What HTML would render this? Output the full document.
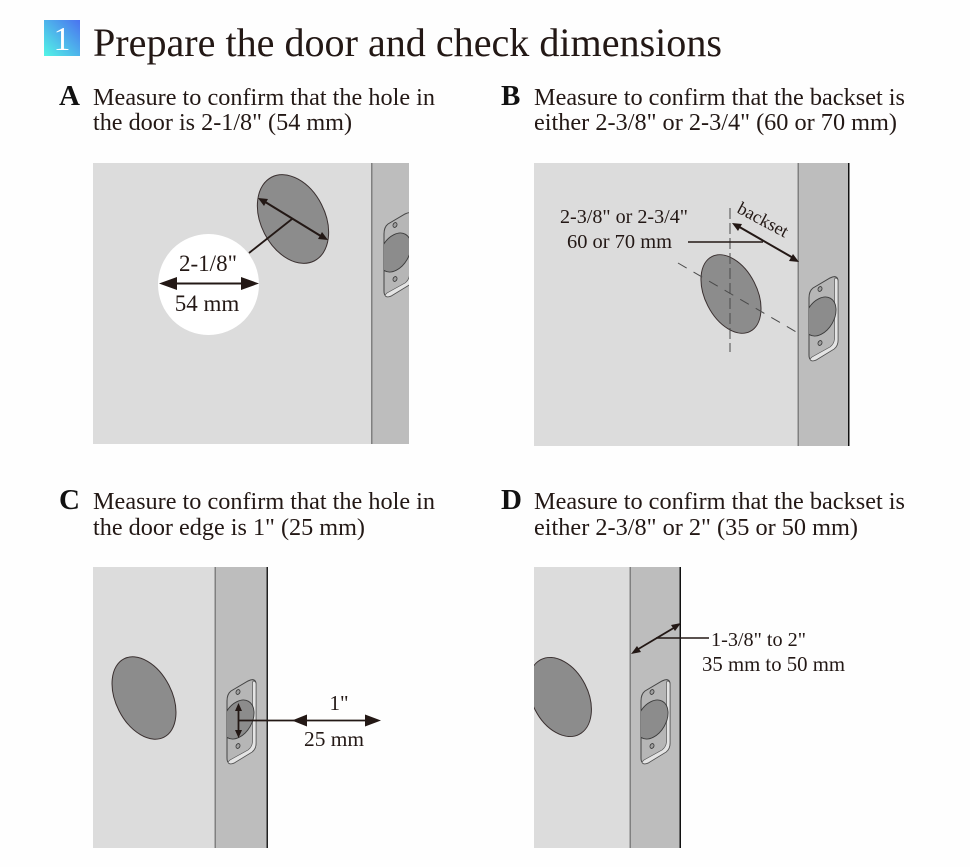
<!DOCTYPE html>
<html><head><meta charset="utf-8"><style>
html,body{margin:0;padding:0;background:#fff}
svg{display:block}
text{font-family:"Liberation Serif",serif;fill:#231815}
.b{font-size:24.2px}
.h{font-size:29px;font-weight:bold;fill:#111}
</style></head><body>
<svg width="970" height="867" viewBox="0 0 970 867" xmlns="http://www.w3.org/2000/svg">
<defs>
<linearGradient id="g" x1="1" y1="0" x2="0" y2="1"><stop offset="0" stop-color="#4a72f0"/><stop offset="1" stop-color="#52f5e6"/></linearGradient>
<clipPath id="ca"><rect x="93" y="163" width="316" height="281"/></clipPath>
<clipPath id="cd"><rect x="534" y="567" width="147" height="281"/></clipPath>
<clipPath id="pc"><path d="M809 298Q809 291 813 288L830 278Q834 276 836 277Q838 278 838 281V340Q838 346 834 349L816 360Q811 362 810 359Q809 358 809 355Z"/></clipPath>
<g id="plate">
<path d="M809 298Q809 291 813 288L830 278Q834 276 836 277Q838 278 838 281V340Q838 346 834 349L816 360Q811 362 810 359Q809 358 809 355Z" fill="#b6b6b6" stroke="#444" stroke-width="1"/>
<path d="M835 278Q838 278 838 281V340Q838 346 834 349L816 360Q811 362 810 359L812 357L830 347Q834 344 834.500 339V280Z" fill="#e4e4e4" stroke="#555" stroke-width=".7"/>
<g clip-path="url(#pc)"><ellipse cx="820" cy="316.500" rx="14" ry="21" transform="rotate(30 820 316.500)" fill="#8c8c8c" stroke="#3c3c3c" stroke-width=".9"/></g>
<ellipse cx="820" cy="289" rx="1.900" ry="2.500" transform="rotate(25 820 289)" fill="#a0a0a0" stroke="#333" stroke-width=".8"/>
<ellipse cx="820" cy="343" rx="1.900" ry="2.500" transform="rotate(25 820 343)" fill="#a0a0a0" stroke="#333" stroke-width=".8"/>
</g>
</defs>
<rect width="970" height="867" fill="#fefefe"/>

<rect x="44" y="20" width="36" height="36" fill="url(#g)"/>
<text x="62" y="50" text-anchor="middle" style="font-size:34px;fill:#fff">1</text>
<text x="93" y="56" style="font-size:40px" textLength="629" lengthAdjust="spacingAndGlyphs">Prepare the door and check dimensions</text>

<text x="59" y="105" class="h">A</text>
<text x="93" y="105" class="b" textLength="342" lengthAdjust="spacingAndGlyphs">Measure to confirm that the hole in</text>
<text x="93" y="130" class="b" textLength="259" lengthAdjust="spacingAndGlyphs">the door is 2-1/8" (54 mm)</text>
<text x="501" y="105" class="h">B</text>
<text x="534" y="105" class="b" textLength="371" lengthAdjust="spacingAndGlyphs">Measure to confirm that the backset is</text>
<text x="534" y="130" class="b" textLength="363" lengthAdjust="spacingAndGlyphs">either 2-3/8" or 2-3/4" (60 or 70 mm)</text>
<text x="59" y="509" class="h">C</text>
<text x="93" y="509" class="b" textLength="342" lengthAdjust="spacingAndGlyphs">Measure to confirm that the hole in</text>
<text x="93" y="535" class="b" textLength="272" lengthAdjust="spacingAndGlyphs">the door edge is 1" (25 mm)</text>
<text x="501" y="509" class="h">D</text>
<text x="534" y="509" class="b" textLength="371" lengthAdjust="spacingAndGlyphs">Measure to confirm that the backset is</text>
<text x="534" y="535" class="b" textLength="324" lengthAdjust="spacingAndGlyphs">either 2-3/8" or 2" (35 or 50 mm)</text>

<!-- Panel A -->
<g clip-path="url(#ca)">
<rect x="93" y="163" width="316" height="281" fill="#dcdcdc"/>
<rect x="372" y="163" width="37" height="281" fill="#bdbdbd"/>
<rect x="371" y="163" width="1.500" height="281" fill="#808080"/>
<use href="#plate" transform="translate(-425 -64)"/>
<ellipse cx="293" cy="219" rx="32" ry="47" transform="rotate(-27 293 219)" fill="#8c8c8c" stroke="#3a3030" stroke-width="1"/>
</g>
<circle cx="208.500" cy="284.500" r="50.500" fill="#fff"/>
<line x1="249" y1="253" x2="292" y2="219" stroke="#231815" stroke-width="1.800"/>
<line x1="262" y1="200" x2="324" y2="238" stroke="#231815" stroke-width="2"/>
<path d="M258 198L268 199L264 206Z M328 240L318 239L322 232Z" fill="#231815"/>
<text x="208" y="271" text-anchor="middle" style="font-size:23px">2-1/8"</text>
<text x="207" y="311" text-anchor="middle" style="font-size:23px">54 mm</text>
<line x1="175" y1="283.500" x2="243" y2="283.500" stroke="#231815" stroke-width="2"/>
<path d="M159 283.500L177 277V290Z M259 283.500L241 277V290Z" fill="#231815"/>

<!-- Panel B -->
<rect x="534" y="163" width="315" height="283" fill="#dcdcdc"/>
<rect x="798" y="163" width="50" height="283" fill="#bdbdbd"/>
<rect x="797.500" y="163" width="1.500" height="283" fill="#808080"/>
<rect x="848" y="163" width="1.500" height="283" fill="#111"/>
<use href="#plate"/>
<ellipse cx="731" cy="294" rx="26" ry="42" transform="rotate(-27 731 294)" fill="#8c8c8c" stroke="#3a3030" stroke-width="1"/>
<line x1="730" y1="208" x2="730" y2="352" stroke="#4a4a4a" stroke-width="1" stroke-dasharray="11 4"/>
<line x1="678" y1="263" x2="798" y2="333" stroke="#4a4a4a" stroke-width="1" stroke-dasharray="10 8"/>
<text x="560" y="223" style="font-size:20.100px" textLength="128" lengthAdjust="spacingAndGlyphs">2-3/8" or 2-3/4"</text>
<text x="567" y="248" style="font-size:20.400px" textLength="105" lengthAdjust="spacingAndGlyphs">60 or 70 mm</text>
<line x1="688" y1="242" x2="763" y2="242" stroke="#231815" stroke-width="1.600"/>
<line x1="736" y1="225" x2="795" y2="259" stroke="#231815" stroke-width="2"/>
<path d="M732 223L742 224L738 231Z M799 262L789 261L793 254Z" fill="#231815"/>
<text x="736" y="212" transform="rotate(28 736 212)" style="font-size:18px" textLength="55" lengthAdjust="spacingAndGlyphs">backset</text>

<!-- Panel C -->
<rect x="93" y="567" width="175" height="281" fill="#dcdcdc"/>
<rect x="215" y="567" width="52" height="281" fill="#bdbdbd"/>
<rect x="214.500" y="567" width="1.500" height="281" fill="#808080"/>
<rect x="266.500" y="567" width="1.500" height="281" fill="#222"/>
<ellipse cx="144" cy="698" rx="28" ry="44" transform="rotate(-27 144 698)" fill="#8c8c8c" stroke="#3a3030" stroke-width="1"/>
<use href="#plate" transform="translate(-582 403)"/>
<line x1="239" y1="720.500" x2="370" y2="720.500" stroke="#231815" stroke-width="1.800"/>
<line x1="238.500" y1="706" x2="238.500" y2="735" stroke="#231815" stroke-width="1.800"/>
<path d="M238.500 703L242 711H235Z M238.500 738L242 730H235Z" fill="#231815"/>
<path d="M292 720.500L307 714.500V726.500Z M381 720.500L365 714.500V726.500Z" fill="#231815"/>
<text x="339" y="710" text-anchor="middle" style="font-size:21px">1"</text>
<text x="304" y="746" style="font-size:21.400px" textLength="60" lengthAdjust="spacingAndGlyphs">25 mm</text>

<!-- Panel D -->
<g clip-path="url(#cd)">
<rect x="534" y="567" width="147" height="281" fill="#dcdcdc"/>
<ellipse cx="560" cy="697" rx="28" ry="42" transform="rotate(-27 560 697)" fill="#8c8c8c" stroke="#3a3030" stroke-width="1"/>
<rect x="630" y="567" width="50" height="281" fill="#bdbdbd"/>
<rect x="629.500" y="567" width="1.500" height="281" fill="#808080"/>
<rect x="679.500" y="567" width="1.500" height="281" fill="#111"/>
</g>
<use href="#plate" transform="translate(-168 403)"/>
<line x1="635" y1="651" x2="677" y2="626" stroke="#231815" stroke-width="1.800"/>
<path d="M631 654L637 646L641 652Z M681 623L675 631L671 625Z" fill="#231815"/>
<line x1="656" y1="638" x2="709" y2="638" stroke="#231815" stroke-width="1.500"/>
<text x="711" y="646" style="font-size:20.200px" textLength="95" lengthAdjust="spacingAndGlyphs">1-3/8" to 2"</text>
<text x="702" y="671" style="font-size:20.700px" textLength="143" lengthAdjust="spacingAndGlyphs">35 mm to 50 mm</text>
</svg>
</body></html>
